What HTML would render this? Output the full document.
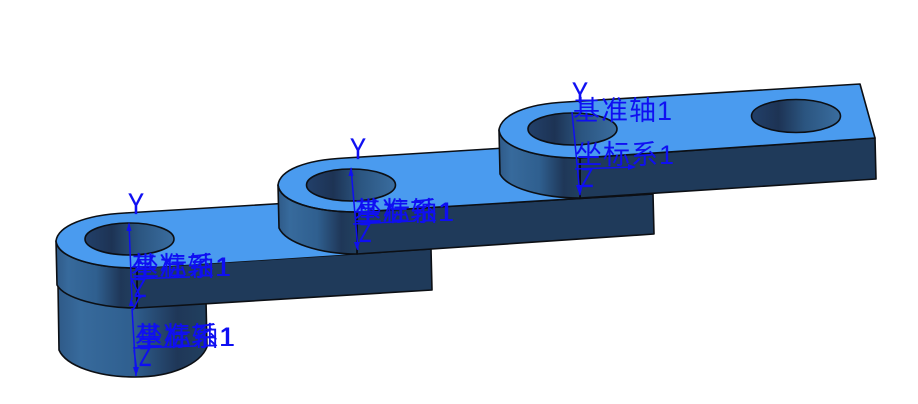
<!DOCTYPE html>
<html><head><meta charset="utf-8"><style>
html,body{margin:0;padding:0;background:#fff}
svg{display:block}
text{font-family:"Liberation Sans","Noto Sans CJK SC",sans-serif;fill:#0f0ff2}
.c{font-size:27px;letter-spacing:1px}
.z{font-size:28px;stroke:#0f0ff2;stroke-width:.25}
.y{font-size:30px;stroke:#0f0ff2;stroke-width:.3}
.a{stroke:#0f0ff2;stroke-width:1.5;fill:none}
.h{fill:#0f0ff2}
.e{stroke:#0c0f14;stroke-width:1.6;stroke-linejoin:round}
</style></head><body>
<svg width="918" height="404" viewBox="0 0 918 404" xmlns="http://www.w3.org/2000/svg">
<defs>
<linearGradient id="s"><stop offset="0" stop-color="#2f5a88"/><stop offset=".15" stop-color="#376a9c"/><stop offset=".5" stop-color="#2f5f8f"/><stop offset=".8" stop-color="#1f3758"/><stop offset="1" stop-color="#21405f"/></linearGradient>
<linearGradient id="h"><stop offset="0" stop-color="#22406a"/><stop offset=".3" stop-color="#1d3354"/><stop offset=".6" stop-color="#2b5580"/><stop offset="1" stop-color="#3a6d9f"/></linearGradient>
</defs>

<!-- lower cylinder -->
<path class="e" fill="url(#s)" d="M58 285 L59 350 C66 366 98 377 135 377 C172 377 200 364 207 347 L206 300 Z"/>

<!-- plate 1 -->
<path class="e" fill="#1f3a5a" d="M137 268 L431 249 L432 290 L137 308 Z"/>
<path class="e" fill="url(#s)" d="M56 241 L57 285 C64 298 100 308 137 308 L137 268 C95 268 58 258 56 241 Z"/>
<path fill="#4a9bef" d="M56 241 C58 226 85 215 125 213 L290 203 L431 249 L137 268 C95 268 58 258 56 241 Z"/>
<path class="e" fill="none" d="M137 268 C95 268 58 258 56 241 C58 226 85 215 125 213 L290 203"/>
<ellipse class="e" cx="129.500" cy="239" rx="44.500" ry="16" fill="url(#h)"/>

<!-- plate 2 -->
<path class="e" fill="#1f3a5a" d="M357 212 L653 194 L654 234 L357 254 Z"/>
<path fill="#4a9bef" d="M345 158 L510 147 L653 194 L357 212 C315 212 280 202 278 185 C280 170 305 160 345 158 Z"/>
<path class="e" fill="url(#s)" d="M278 185 L279 228 C286 243 320 254 357 254 L357 212 C315 212 280 202 278 185 Z"/>
<path class="e" fill="none" d="M653 194 L357 212 C315 212 280 202 278 185 C280 170 305 160 345 158 L505 148"/>
<ellipse class="e" cx="351" cy="185" rx="44.500" ry="16" fill="url(#h)"/>

<!-- plate 3 -->
<path class="e" fill="#1f3a5a" d="M580 158 L875 138 L876 179 L580 198 Z"/>
<path class="e" fill="url(#s)" d="M499 130 L500 174 C507 188 542 198 580 198 L580 158 C535 158 501 147 499 130 Z"/>
<path class="e" fill="#4a9bef" d="M499 130 C501 115 526 104 566 102 L860 84 L875 138 L580 158 C535 158 501 147 499 130 Z"/>
<ellipse class="e" cx="572.500" cy="129" rx="44.500" ry="16" fill="url(#h)"/>
<ellipse class="e" cx="796" cy="116" rx="44.500" ry="16.500" fill="url(#h)"/>

<!-- dark tick lines -->
<path stroke="#0c0f14" stroke-width="1.4" d="M137 268V308M357 212V254M580 158V198"/>

<!-- axis 1 upper -->
<path class="a" d="M129 224 L132 300 M131 278 L141 298 M131 279 L190 277 M140 296 L133 310"/>
<path class="h" d="M129 222 l-2.500 9 h5z M131 298 l3 8 -5 0z"/>
<text class="z" transform="translate(134 297) scale(.72 1)">Z</text>
<text x="132" y="276" class="c">坐标系1</text>
<text x="131" y="276" class="c">基准轴1</text>

<!-- axis 1 lower -->
<path class="a" d="M132 308 L136 376 M133 348 L196 346 M134 350 L137 372"/>
<path class="h" d="M136 376 l-3 -9 h6z"/>
<text class="z" transform="translate(139 366) scale(.72 1)">Z</text>
<text x="136" y="346" class="c">坐标系1</text>
<text x="135" y="346" class="c">基准轴1</text>

<!-- axis 2 -->
<path class="a" d="M351 168 L358 250 M353 224 L415 221"/>
<path class="h" d="M351 167 l-2.500 9 h5z M357 250 l-3 -8 h6z"/>
<text class="z" transform="translate(359 242) scale(.72 1)">Z</text>
<text x="355" y="221" class="c">坐标系1</text>
<text x="354" y="221" class="c">基准轴1</text>

<!-- axis 3 -->
<path class="a" d="M572 112 L580 195 M575 169 L634 167"/>
<path class="h" d="M580 196 l-4 -11 h7z M636 167 l-8 -3 v6z"/>
<text class="z" transform="translate(581 187) scale(.72 1)">Z</text>
<text x="573" y="120" class="c">基准轴1</text>
<text x="575" y="164" class="c">坐标系1</text>

<!-- Y labels -->
<text class="y" transform="translate(128 214) scale(.8 1)">Y</text>
<text class="y" transform="translate(350 159) scale(.8 1)">Y</text>
<text class="y" transform="translate(572 103) scale(.8 1)">Y</text>
</svg>
</body></html>
